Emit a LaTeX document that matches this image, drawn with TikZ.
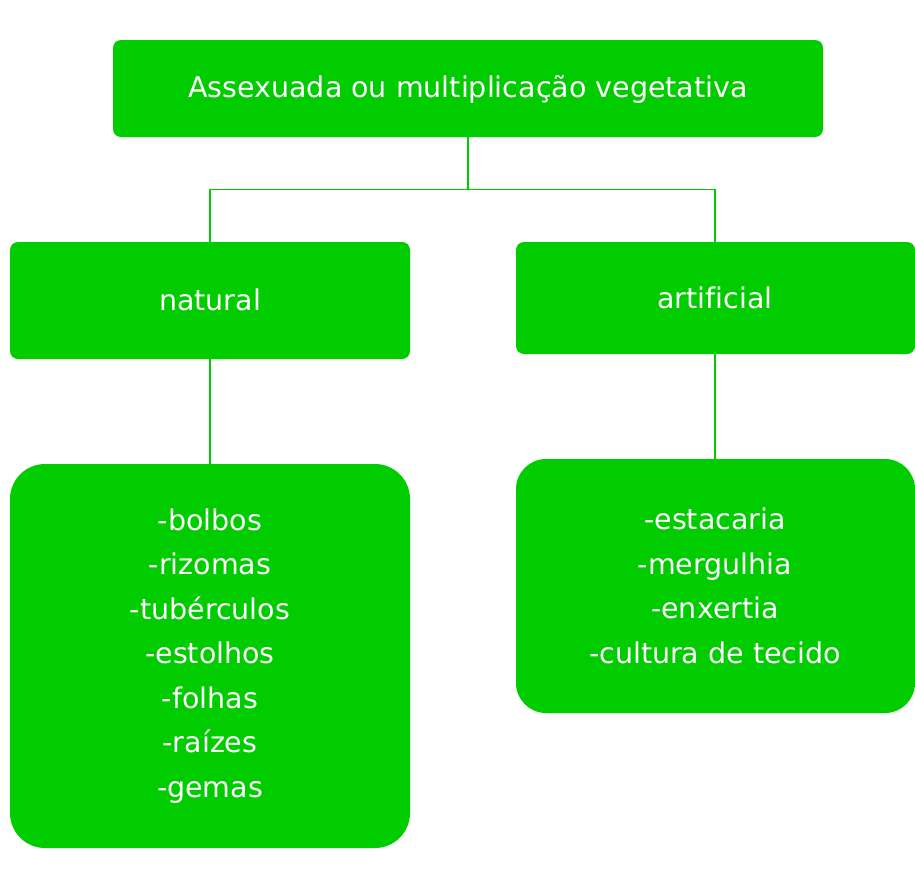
\documentclass[tikz,border=0pt]{standalone}
\usepackage{fontspec}
\setmainfont[Ligatures=NoCommon]{DejaVu Sans}
\definecolor{vgreen}{HTML}{00CC00}
\begin{document}
\begin{tikzpicture}[x=1pt,y=-1pt,
  conn/.style={draw=vgreen,line width=1.8pt},
  lbl/.style={text=white,font=\fontsize{28.5}{44.5}\selectfont,align=center}]
\useasboundingbox (0,0) rectangle (915,889);
\fill[vgreen,rounded corners=8pt] (113,40) rectangle (823,137);
\coordinate (topb) at (468,137);
\node[lbl] (top) at (468,89) {Assexuada ou multiplicação vegetativa};
\fill[vgreen,rounded corners=8pt] (10,242) rectangle (410,359);
\node[lbl] (nat) at (210,300) {natural};
\fill[vgreen,rounded corners=8pt] (516,242) rectangle (915,354);
\node[lbl] (art) at (715,298) {artificial};
\fill[vgreen,rounded corners=35pt] (10,464) rectangle (410,848);
\node[lbl] (natl) at (210,656) {-bolbos\\-rizomas\\-tubérculos\\-estolhos\\-folhas\\-raízes\\-gemas};
\fill[vgreen,rounded corners=30pt] (516,459) rectangle (915,713);
\node[lbl] (artl) at (715,586) {-estacaria\\-mergulhia\\-enxertia\\-cultura de tecido};
\coordinate (j) at (468,189.5);
\coordinate (nt) at (210,242);
\coordinate (at) at (715,242);
\coordinate (nb) at (210,359);
\coordinate (nlt) at (210,464);
\coordinate (ab) at (715,354);
\coordinate (alt) at (715,459);
\draw[conn] (topb) -- (j);
\draw[conn] (nt) |- (j) -| (at);
\draw[conn] (nb) -- (nlt);
\draw[conn] (ab) -- (alt);
\end{tikzpicture}
\end{document}
